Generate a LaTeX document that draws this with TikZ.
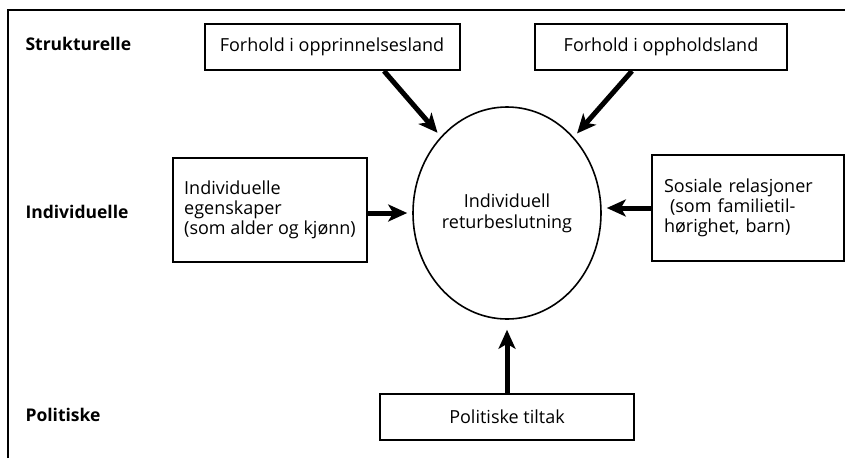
\documentclass[tikz,border=0pt]{standalone}
\usepackage{fontspec}
\setmainfont{Open Sans}
\usetikzlibrary{arrows.meta,shapes.geometric,positioning}

\begin{document}
\begin{tikzpicture}[x=1pt,y=-1pt,>={Stealth[length=19pt,width=17pt,inset=5pt]},shorten >=5pt,
	faktor/.style={rectangle,draw,line width=2pt,inner sep=0pt,font=\fontsize{18}{20}\selectfont},
	niva/.style={anchor=west,font=\fontsize{17.5}{20}\selectfont\bfseries},
	pil/.style={->,line width=5pt}]

\useasboundingbox (0,0) rectangle (850,458);

% ramme
\draw[line width=2.5pt] (8,458) -- (8,10) -- (850,10);

% nivaaer
\node[niva]   (strukt)	at (22,44)		{Strukturelle};
\node[niva]   (indniv)	at (22,212)		{Individuelle};
\node[niva]   (polniv)	at (22,415)		{Politiske};

% midten
\node[ellipse,draw,line width=1.6pt,minimum width=188pt,minimum height=212pt,inner sep=0pt,
	align=center,font=\fontsize{18}{21}\selectfont]   (ret)	at (507,213)	{Individuell\\returbeslutning};

\node[faktor,minimum width=255pt,minimum height=46pt]   (opr)	at (332,47)	{Forhold i opprinnelsesland};
\node[faktor,minimum width=252pt,minimum height=46pt]   (opph)	at (661,47)	{Forhold i oppholdsland};
\node[faktor,align=left,minimum width=194pt,minimum height=104pt]   (indiv)	at (270,210)
	{Individuelle\\egenskaper\\(som alder og kjønn)};
\node[faktor,align=left,text width=168pt,inner xsep=12pt,minimum height=106pt]   (sos)	at (748,208)
	{Sosiale relasjoner\\~(som familietil-\\hørighet, barn)};
\node[faktor,minimum width=254pt,minimum height=46pt]   (pol)	[below=73pt of ret]	{Politiske tiltak};

	\draw[pil] ([xshift=52pt]opr.south)  --  (ret);
	\draw[pil] ([xshift=-29pt]opph.south)  --  (ret);
	\draw[pil] ([yshift=-3pt]indiv.east)  --  ([yshift=-3pt]indiv.east -| ret.west);
	\draw[pil] (sos.west)  --  (sos.west -| ret.east);
	\draw[pil,shorten >=10pt] (pol)  --  (ret.south);

\end{tikzpicture}
\end{document}
